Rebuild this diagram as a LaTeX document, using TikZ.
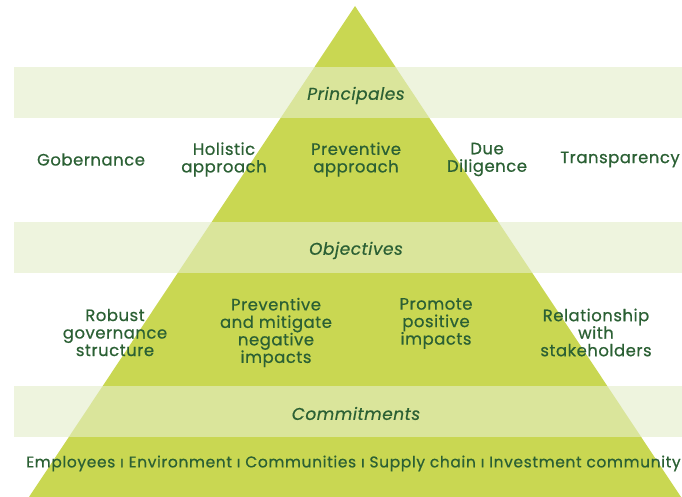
\documentclass[tikz,border=0pt]{standalone}
\usepackage{fontspec}
\setmainfont{Poppins}[FakeBold=0.6,LetterSpace=3]
\definecolor{pyramid}{HTML}{C9D752}
\definecolor{bandout}{HTML}{EEF4DE}
\definecolor{bandin}{HTML}{DAE59B}
\definecolor{textgreen}{HTML}{2B6034}

\begin{document}
\begin{tikzpicture}[x=1pt,y=-1pt]
      \tikzset{
        txt/.style={text=textgreen,align=center,inner sep=0pt,
          font=\fontsize{16.5}{17.5}\selectfont},
        title/.style={txt,font=\fontsize{17}{17.5}\selectfont\itshape},
        band/.style={fill=bandout}
      }

      \useasboundingbox (0,0) rectangle (682,497);

      % pyramid
      \coordinate (apex) at (355,6);
      \coordinate (left) at (29,497);
      \coordinate (right) at (681,497);
      \fill[pyramid] (apex) -- (left) -- (right) -- cycle;

      % bands
      \foreach \y in {67,222,386}
        \fill[band] (14,\y) rectangle (682,\y+51);
      \begin{scope}
        \clip (apex) -- (left) -- (right) -- cycle;
        \foreach \y in {67,222,386}
          \fill[bandin] (14,\y) rectangle (682,\y+51);
      \end{scope}

      % titles
      \node[title] (principales) at (356,95.5) {Principales};
      \node[title] (objectives) at (356,250.5) {Objectives};
      \node[title] (commitments) at (356,413.5) {Commitments};

      % principles
      \node[txt] (gobernance) at (91,159.5) {Gobernance};
      \node[txt] (holistic) at (224,159.5) {Holistic\\approach};
      \node[txt] (preventive) at (356,159.5) {Preventive\\approach};
      \node[txt] (diligence) at (487,159.5) {Due\\Diligence};
      \node[txt] (transparency) at (620,159.5) {Transparency};

      % objectives
      \node[txt] (robust) at (115,332.5) {Robust\\governance\\structure};
      \node[txt] (mitigate) at (276,332.5) {Preventive\\and mitigate\\negative\\impacts};
      \node[txt] (promote) at (436,323.5) {Promote\\positive\\impacts};
      \node[txt] (relationship) at (596,332.5) {Relationship\\with\\stakeholders};

      % commitments
      \node[txt,anchor=west,font=\fontsize{15.5}{16}\selectfont\addfontfeatures{LetterSpace=4}] (groups) at (26,463.5)
        {Employees ı Environment ı Communities ı Supply chain ı Investment community};
    \end{tikzpicture}
\end{document}
